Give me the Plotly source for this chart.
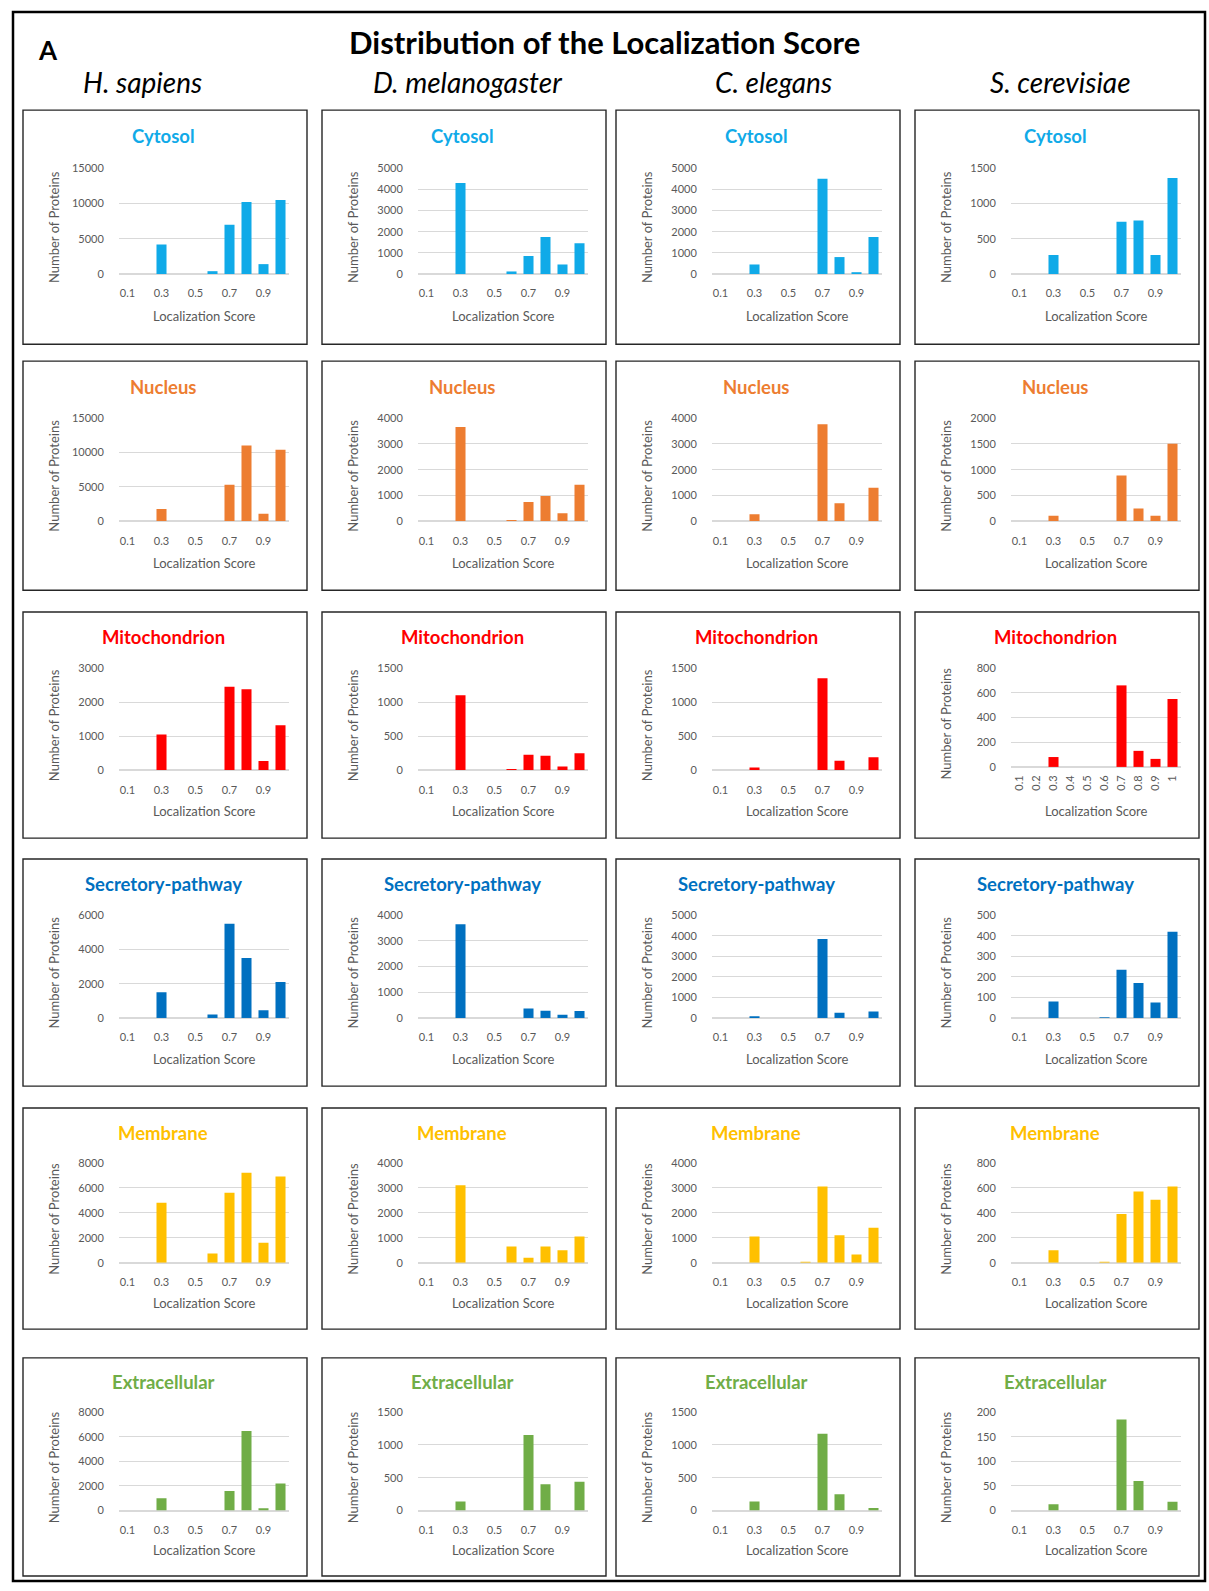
import plotly.graph_objects as go

# ---------------- data ----------------
categories = ["0.1", "0.2", "0.3", "0.4", "0.5", "0.6", "0.7", "0.8", "0.9", "1"]
species = ["H. sapiens", "D. melanogaster", "C. elegans", "S. cerevisiae"]
compartments = ["Cytosol", "Nucleus", "Mitochondrion", "Secretory-pathway", "Membrane", "Extracellular"]
compartment_colors = ["#10AAE8", "#ED7D31", "#FF0000", "#0070C0", "#FFC000", "#70AD47"]

# H. sapiens
hs_cytosol = [0, 0, 4200, 0, 0, 400, 7000, 10200, 1400, 10500]
hs_nucleus = [0, 0, 1800, 0, 0, 50, 5300, 11000, 1100, 10400]
hs_mito = [0, 0, 1050, 0, 0, 0, 2450, 2380, 270, 1320]
hs_secretory = [0, 0, 1500, 0, 0, 200, 5500, 3500, 450, 2100]
hs_membrane = [0, 0, 4800, 0, 0, 750, 5600, 7200, 1600, 6900]
hs_extracellular = [0, 0, 1000, 0, 0, 0, 1600, 6450, 200, 2200]

# D. melanogaster
dm_cytosol = [0, 0, 4300, 0, 0, 120, 850, 1750, 450, 1450]
dm_nucleus = [0, 0, 3650, 0, 0, 60, 750, 980, 320, 1420]
dm_mito = [0, 0, 1100, 0, 0, 5, 230, 215, 55, 250]
dm_secretory = [0, 0, 3650, 0, 0, 0, 370, 280, 130, 270]
dm_membrane = [0, 0, 3100, 0, 0, 650, 200, 650, 500, 1050]
dm_extracellular = [0, 0, 140, 0, 0, 0, 1150, 400, 0, 440]

# C. elegans
ce_cytosol = [0, 0, 450, 0, 0, 0, 4500, 800, 50, 1750]
ce_nucleus = [0, 0, 280, 0, 0, 0, 3750, 700, 10, 1300]
ce_mito = [0, 0, 40, 0, 0, 0, 1350, 140, 0, 190]
ce_secretory = [0, 0, 80, 0, 0, 0, 3850, 250, 0, 320]
ce_membrane = [0, 0, 1050, 0, 0, 30, 3050, 1100, 330, 1400]
ce_extracellular = [0, 0, 140, 0, 0, 0, 1170, 250, 0, 40]

# S. cerevisiae
sc_cytosol = [0, 0, 270, 0, 0, 0, 740, 760, 270, 1360]
sc_nucleus = [0, 0, 110, 0, 0, 0, 890, 250, 110, 1500]
sc_mito = [0, 0, 80, 0, 0, 0, 660, 130, 65, 550]
sc_secretory = [0, 0, 80, 0, 0, 2, 235, 170, 75, 420]
sc_membrane = [0, 0, 100, 0, 0, 5, 390, 570, 505, 610]
sc_extracellular = [0, 0, 13, 0, 0, 0, 185, 60, 0, 18]

values = [
    [hs_cytosol, dm_cytosol, ce_cytosol, sc_cytosol],
    [hs_nucleus, dm_nucleus, ce_nucleus, sc_nucleus],
    [hs_mito, dm_mito, ce_mito, sc_mito],
    [hs_secretory, dm_secretory, ce_secretory, sc_secretory],
    [hs_membrane, dm_membrane, ce_membrane, sc_membrane],
    [hs_extracellular, dm_extracellular, ce_extracellular, sc_extracellular],
]

# y-axis maxima and steps (rows = compartments, cols = species)
y_max = [
    [15000, 5000, 5000, 1500],
    [15000, 4000, 4000, 2000],
    [3000, 1500, 1500, 800],
    [6000, 4000, 5000, 500],
    [8000, 4000, 4000, 800],
    [8000, 1500, 1500, 200],
]
y_step = [
    [5000, 1000, 1000, 500],
    [5000, 1000, 1000, 500],
    [1000, 500, 500, 200],
    [2000, 1000, 1000, 100],
    [2000, 1000, 1000, 200],
    [2000, 500, 500, 50],
]
x_ticks_default = ["0.1", "0.3", "0.5", "0.7", "0.9"]

# ---------------- layout geometry ----------------
W, H = 1209, 1591
FONT = "Lato"
col_left = [23, 322, 616, 915]
col_width = 284
row_top = [104, 357, 610, 859, 1110, 1362]
row_height = [236, 231, 228, 229, 223, 220]


def fx(x):
    return x / W


def fy(y):
    return 1 - y / H


fig = go.Figure()
shapes = []
annotations = []
layout_axes = {}

shapes.append(dict(type="rect", xref="paper", yref="paper",
                   x0=fx(13), x1=fx(1205), y0=fy(5), y1=fy(1587),
                   line=dict(color="black", width=2.5), fillcolor="rgba(0,0,0,0)"))

annotations.append(dict(text="<b>Distribution of the Localization Score</b>", xref="paper", yref="paper",
                        x=fx(604), y=fy(35), showarrow=False, xanchor="center", yanchor="middle",
                        font=dict(family=FONT, size=31, color="black")))
annotations.append(dict(text="<b>A</b>", xref="paper", yref="paper",
                        x=fx(48), y=fy(43), showarrow=False, xanchor="center", yanchor="middle",
                        font=dict(family=FONT, size=26, color="black")))
species_x = [142, 467, 773, 1060]
for s, sx in zip(species, species_x):
    annotations.append(dict(text="<i>" + s + "</i>", xref="paper", yref="paper",
                            x=fx(sx), y=fy(76), showarrow=False, xanchor="center", yanchor="middle",
                            font=dict(family=FONT, size=28, color="black")))

idx = 0
for r, comp in enumerate(compartments):
    top = row_top[r]
    h = row_height[r]
    for c in range(4):
        idx += 1
        left = col_left[c]
        right = left + col_width
        color = compartment_colors[r]
        # panel box
        shapes.append(dict(type="rect", xref="paper", yref="paper",
                           x0=fx(left), x1=fx(right), y0=fy(top), y1=fy(top + h),
                           line=dict(color="#262626", width=1.4), fillcolor="rgba(0,0,0,0)"))
        rotated = (r == 2 and c == 3)
        plot_l = left + 96
        plot_r = right - 18
        plot_t = top + 0.248 * h
        plot_b = top + (0.685 if rotated else 0.70) * h
        xa = "x" if idx == 1 else "x%d" % idx
        ya = "y" if idx == 1 else "y%d" % idx
        fig.add_trace(go.Bar(x=categories, y=values[r][c], marker=dict(color=color, line=dict(width=0)),
                             xaxis=xa, yaxis=ya, showlegend=False, hoverinfo="x+y"))
        layout_axes["xaxis" if idx == 1 else "xaxis%d" % idx] = dict(
            domain=[fx(plot_l), fx(plot_r)], anchor=ya, type="category",
            categoryorder="array", categoryarray=categories,
            tickmode="array", tickvals=categories if rotated else x_ticks_default,
            tickangle=-90 if rotated else 0,
            ticks="outside", ticklen=3 if rotated else 9, tickcolor="rgba(0,0,0,0)",
            tickfont=dict(family=FONT, size=11, color="#595959"),
            showgrid=False, showline=True, linecolor="#D9D9D9", linewidth=1,
            fixedrange=True)
        layout_axes["yaxis" if idx == 1 else "yaxis%d" % idx] = dict(
            domain=[fy(plot_b), fy(plot_t)], anchor=xa,
            range=[0, y_max[r][c]], tickmode="linear", tick0=0, dtick=y_step[r][c],
            tickformat="d",
            ticks="outside", ticklen=12, tickcolor="rgba(0,0,0,0)",
            tickfont=dict(family=FONT, size=11, color="#595959"),
            showgrid=True, gridcolor="#D9D9D9", gridwidth=1,
            zeroline=True, zerolinecolor="#D9D9D9", showline=False,
            fixedrange=True)
        # panel title
        annotations.append(dict(text="<b>" + comp + "</b>", xref="paper", yref="paper",
                                x=fx(left + col_width / 2 - 2), y=fy(top + 0.112 * h), showarrow=False,
                                xanchor="center", yanchor="middle",
                                font=dict(family=FONT, size=18.5, color=color)))
        # axis titles
        annotations.append(dict(text="Number of Proteins", xref="paper", yref="paper",
                                x=fx(left + 31), y=fy((plot_t + plot_b) / 2 + 6), showarrow=False,
                                textangle=-90, xanchor="center", yanchor="middle",
                                font=dict(family=FONT, size=13, color="#595959")))
        annotations.append(dict(text="Localization Score", xref="paper", yref="paper",
                                x=fx((plot_l + plot_r) / 2), y=fy(top + 0.88 * h), showarrow=False,
                                xanchor="center", yanchor="middle",
                                font=dict(family=FONT, size=13, color="#595959")))

fig.update_layout(
    width=W, height=H,
    margin=dict(l=0, r=0, t=0, b=0),
    paper_bgcolor="white", plot_bgcolor="white",
    bargap=0.41,
    shapes=shapes, annotations=annotations,
    font=dict(family=FONT),
    **layout_axes,
)

fig.write_html("out.html", config={"displayModeBar": False},
               post_script="document.body.style.margin='0';document.body.style.overflow='hidden';")
